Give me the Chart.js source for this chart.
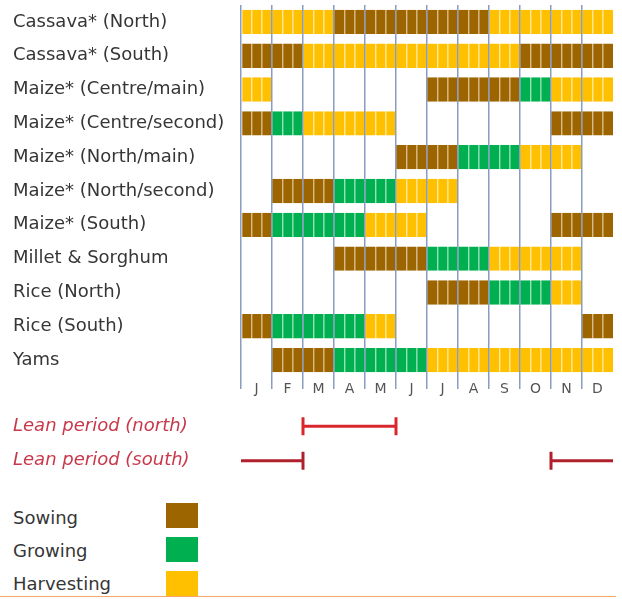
<!DOCTYPE html>
<html>
<head>
<meta charset="utf-8">
<script src="https://cdn.jsdelivr.net/npm/chart.js@4.4.1/dist/chart.umd.min.js"></script>
<style>
  html, body { margin: 0; padding: 0; background: #fff; }
  #page { position: relative; width: 622px; height: 599px; overflow: hidden; font-family: 'DejaVu Sans', sans-serif; }
  #calendar { position: absolute; left: 0; top: 0; width: 622px; height: 400px; }
  #lean { position: absolute; left: 0; top: 400px; width: 622px; height: 80px; }
  .key { position: absolute; left: 13px; font-size: 18px; line-height: 20px; color: #363636; }
  .swatch { position: absolute; left: 166px; width: 32px; height: 25px; }
  #rule { position: absolute; left: 0; top: 596px; width: 616px; height: 1px; background: #f5a66a; }
</style>
</head>
<body>
<div id="page">
  <div id="calendar"><canvas id="cal"></canvas></div>
  <div id="lean"><canvas id="leanCanvas"></canvas></div>
  <div id="keys"></div>
  <div id="rule"></div>
</div>
<script>
const months = ['J', 'F', 'M', 'A', 'M', 'J', 'J', 'A', 'S', 'O', 'N', 'D']
const crops = [
  'Cassava* (North)',
  'Cassava* (South)',
  'Maize* (Centre/main)',
  'Maize* (Centre/second)',
  'Maize* (North/main)',
  'Maize* (North/second)',
  'Maize* (South)',
  'Millet & Sorghum',
  'Rice (North)',
  'Rice (South)',
  'Yams',
]

// one code per month: S sowing, G growing, H harvesting, - nothing
const cassavaNorth = ['H', 'H', 'H', 'S', 'S', 'S', 'S', 'S', 'H', 'H', 'H', 'H']
const cassavaSouth = ['S', 'S', 'H', 'H', 'H', 'H', 'H', 'H', 'H', 'S', 'S', 'S']
const maizeCentreMain = ['H', '-', '-', '-', '-', '-', 'S', 'S', 'S', 'G', 'H', 'H']
const maizeCentreSecond = ['S', 'G', 'H', 'H', 'H', '-', '-', '-', '-', '-', 'S', 'S']
const maizeNorthMain = ['-', '-', '-', '-', '-', 'S', 'S', 'G', 'G', 'H', 'H', '-']
const maizeNorthSecond = ['-', 'S', 'S', 'G', 'G', 'H', 'H', '-', '-', '-', '-', '-']
const maizeSouth = ['S', 'G', 'G', 'G', 'H', 'H', '-', '-', '-', '-', 'S', 'S']
const milletSorghum = ['-', '-', '-', 'S', 'S', 'S', 'G', 'G', 'H', 'H', 'H', '-']
const riceNorth = ['-', '-', '-', '-', '-', '-', 'S', 'S', 'G', 'G', 'H', '-']
const riceSouth = ['S', 'G', 'G', 'G', 'H', '-', '-', '-', '-', '-', '-', 'S']
const yams = ['-', 'S', 'S', 'G', 'G', 'G', 'H', 'H', 'H', 'H', 'H', 'H']

const stageCodes = ['S', 'G', 'H']
const stageNames = ['Sowing', 'Growing', 'Harvesting']

// lean periods, in months from the start of January
const leanLabels = ['Lean period (north)', 'Lean period (south)']
const leanNorth = [2, 5]
const leanSouthEarly = [0, 2]
const leanSouthLate = [10, 12]

const stageColors = { S: '#9c6500', G: '#00b050', H: '#ffc000' }
const stripeColors = { S: '#b97e1c', G: '#3cc67c', H: '#ffd244' }
const gridColor = '#8a9cbf'
const labelFont = { family: 'DejaVu Sans', size: 18 }

const rows = [
  cassavaNorth, cassavaSouth, maizeCentreMain, maizeCentreSecond, maizeNorthMain,
  maizeNorthSecond, maizeSouth, milletSorghum, riceNorth, riceSouth, yams,
]

// each month is split in three ten-day slots, like the source sheet
const datasets = []
for (let d = 0; d < 36; d++) {
  const m = Math.floor(d / 3)
  datasets.push({
    label: 'slot ' + d,
    data: rows.map((r) => (r[m] === '-' ? null : [d / 3, (d + 1) / 3])),
    backgroundColor: rows.map((r) => stageColors[r[m]] || 'transparent'),
    borderColor: rows.map((r) => stripeColors[r[m]] || 'transparent'),
    borderWidth: { left: 1, right: 0, top: 0, bottom: 0 },
    borderSkipped: false,
    grouped: false,
    barPercentage: 0.72,
    categoryPercentage: 1,
  })
}

// left column of labels is 228px wide; drop the half-label padding chart.js adds
const fitLabels = (s) => {
  s.width = 228
  s.paddingTop = 0
  s.paddingBottom = 0
}

new Chart(document.getElementById('cal'), {
  type: 'bar',
  data: { labels: crops, datasets: datasets },
  options: {
    indexAxis: 'y',
    responsive: true,
    maintainAspectRatio: false,
    animation: false,
    layout: { padding: { left: 13, right: 9, top: 5, bottom: 0 } },
    scales: {
      x: {
        type: 'linear',
        min: 0,
        max: 12,
        afterFit: (s) => { s.height = 23 },
        border: { display: false },
        grid: {
          z: 1,
          color: (c) => (c.tick && c.tick.value === 12 ? 'rgba(0,0,0,0)' : gridColor),
          lineWidth: 1.5,
          tickLength: 12,
        },
        ticks: {
          stepSize: 1,
          autoSkip: false,
          maxRotation: 0,
          labelOffset: 15.5,
          padding: -8,
          color: '#555',
          font: { family: 'DejaVu Sans', size: 14 },
          callback: (v) => months[v] || '',
        },
      },
      y: {
        type: 'category',
        afterFit: fitLabels,
        border: { display: false },
        grid: { display: false },
        ticks: {
          crossAlign: 'far',
          autoSkip: false,
          padding: 0,
          color: '#363636',
          font: labelFont,
        },
      },
    },
    plugins: { legend: false, tooltip: false },
  },
})

const leanLine = (range, label, color, radii) => ({
  data: range.map((x) => ({ x: x, y: label })),
  borderColor: color,
  borderWidth: 3,
  pointStyle: 'line',
  rotation: 90,
  pointRadius: radii,
  pointBorderColor: color,
  pointBorderWidth: 3,
  clip: false,
})

new Chart(document.getElementById('leanCanvas'), {
  type: 'line',
  data: {
    datasets: [
      leanLine(leanNorth, leanLabels[0], '#d9262d', [9, 9]),
      leanLine(leanSouthEarly, leanLabels[1], '#b0202c', [0, 9]),
      leanLine(leanSouthLate, leanLabels[1], '#b0202c', [9, 0]),
    ],
  },
  options: {
    responsive: true,
    maintainAspectRatio: false,
    animation: false,
    layout: { autoPadding: false, padding: { left: 13, right: 9, top: 9, bottom: 2 } },
    scales: {
      x: { type: 'linear', min: 0, max: 12, display: false },
      y: {
        type: 'category',
        labels: leanLabels,
        offset: true,
        afterFit: fitLabels,
        border: { display: false },
        grid: { display: false },
        ticks: {
          crossAlign: 'far',
          padding: 0,
          color: '#c8384a',
          font: { family: 'DejaVu Sans', size: 18, style: 'italic' },
        },
      },
    },
    plugins: { legend: false, tooltip: false },
  },
})

const keys = document.getElementById('keys')
stageNames.forEach((name, i) => {
  const text = document.createElement('div')
  text.className = 'key'
  text.style.top = 508 + i * 33 + 'px'
  text.textContent = name
  keys.appendChild(text)
  const box = document.createElement('div')
  box.className = 'swatch'
  box.style.top = 503 + i * 34 + 'px'
  box.style.background = stageColors[stageCodes[i]]
  keys.appendChild(box)
})
</script>
</body>
</html>
